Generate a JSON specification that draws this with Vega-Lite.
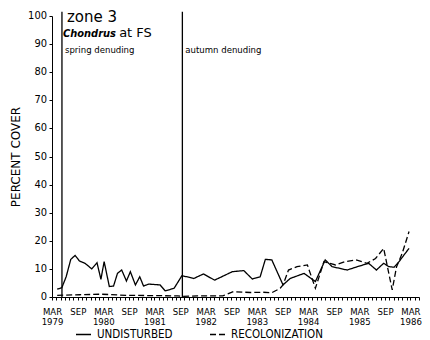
{
  "$schema": "https://vega.github.io/schema/vega-lite/v6.json",
  "autosize": "none",
  "width": 367,
  "height": 281,
  "padding": {"left": 52, "top": 16, "right": 11, "bottom": 43},
  "background": "white",
  "config": {
    "view": {"stroke": null},
    "font": "DejaVu Sans Condensed",
    "axis": {"domainColor": "black", "tickColor": "black", "labelColor": "black", "titleColor": "black", "grid": false}
  },
  "datasets": {
    "cover": [
      {"date": "1979-04-07", "cover": 2.8, "series": "UNDISTURBED"},
      {"date": "1979-05-10", "cover": 3.3, "series": "UNDISTURBED"},
      {"date": "1979-06-10", "cover": 7.2, "series": "UNDISTURBED"},
      {"date": "1979-07-13", "cover": 13.4, "series": "UNDISTURBED"},
      {"date": "1979-08-13", "cover": 14.8, "series": "UNDISTURBED"},
      {"date": "1979-09-13", "cover": 12.8, "series": "UNDISTURBED"},
      {"date": "1979-10-22", "cover": 12.0, "series": "UNDISTURBED"},
      {"date": "1979-12-10", "cover": 10.0, "series": "UNDISTURBED"},
      {"date": "1980-01-16", "cover": 12.2, "series": "UNDISTURBED"},
      {"date": "1980-02-13", "cover": 6.3, "series": "UNDISTURBED"},
      {"date": "1980-03-07", "cover": 12.6, "series": "UNDISTURBED"},
      {"date": "1980-04-13", "cover": 3.7, "series": "UNDISTURBED"},
      {"date": "1980-05-13", "cover": 3.9, "series": "UNDISTURBED"},
      {"date": "1980-06-10", "cover": 8.4, "series": "UNDISTURBED"},
      {"date": "1980-07-10", "cover": 9.6, "series": "UNDISTURBED"},
      {"date": "1980-08-13", "cover": 5.7, "series": "UNDISTURBED"},
      {"date": "1980-09-10", "cover": 9.0, "series": "UNDISTURBED"},
      {"date": "1980-10-16", "cover": 4.3, "series": "UNDISTURBED"},
      {"date": "1980-11-16", "cover": 7.2, "series": "UNDISTURBED"},
      {"date": "1980-12-13", "cover": 3.9, "series": "UNDISTURBED"},
      {"date": "1981-01-19", "cover": 4.6, "series": "UNDISTURBED"},
      {"date": "1981-04-10", "cover": 4.3, "series": "UNDISTURBED"},
      {"date": "1981-05-16", "cover": 2.2, "series": "UNDISTURBED"},
      {"date": "1981-06-22", "cover": 2.7, "series": "UNDISTURBED"},
      {"date": "1981-07-19", "cover": 3.1, "series": "UNDISTURBED"},
      {"date": "1981-09-13", "cover": 7.6, "series": "UNDISTURBED"},
      {"date": "1981-12-07", "cover": 6.6, "series": "UNDISTURBED"},
      {"date": "1982-02-13", "cover": 8.2, "series": "UNDISTURBED"},
      {"date": "1982-05-04", "cover": 6.0, "series": "UNDISTURBED"},
      {"date": "1982-09-07", "cover": 9.0, "series": "UNDISTURBED"},
      {"date": "1982-11-28", "cover": 9.4, "series": "UNDISTURBED"},
      {"date": "1983-01-28", "cover": 6.4, "series": "UNDISTURBED"},
      {"date": "1983-03-25", "cover": 7.2, "series": "UNDISTURBED"},
      {"date": "1983-05-01", "cover": 13.4, "series": "UNDISTURBED"},
      {"date": "1983-06-16", "cover": 13.2, "series": "UNDISTURBED"},
      {"date": "1983-09-04", "cover": 4.3, "series": "UNDISTURBED"},
      {"date": "1983-10-25", "cover": 6.6, "series": "UNDISTURBED"},
      {"date": "1984-02-01", "cover": 8.4, "series": "UNDISTURBED"},
      {"date": "1984-04-22", "cover": 5.5, "series": "UNDISTURBED"},
      {"date": "1984-07-01", "cover": 13.2, "series": "UNDISTURBED"},
      {"date": "1984-08-19", "cover": 10.8, "series": "UNDISTURBED"},
      {"date": "1984-12-04", "cover": 9.6, "series": "UNDISTURBED"},
      {"date": "1985-02-16", "cover": 10.8, "series": "UNDISTURBED"},
      {"date": "1985-05-07", "cover": 12.0, "series": "UNDISTURBED"},
      {"date": "1985-07-01", "cover": 9.6, "series": "UNDISTURBED"},
      {"date": "1985-08-22", "cover": 12.0, "series": "UNDISTURBED"},
      {"date": "1985-09-28", "cover": 10.8, "series": "UNDISTURBED"},
      {"date": "1985-11-04", "cover": 10.6, "series": "UNDISTURBED"},
      {"date": "1985-12-10", "cover": 12.6, "series": "UNDISTURBED"},
      {"date": "1986-01-13", "cover": 14.9, "series": "UNDISTURBED"},
      {"date": "1986-02-19", "cover": 17.3, "series": "UNDISTURBED"},
      {"date": "1979-04-07", "cover": 0.6, "series": "RECOLONIZATION"},
      {"date": "1979-09-15", "cover": 0.8, "series": "RECOLONIZATION"},
      {"date": "1980-02-15", "cover": 1.0, "series": "RECOLONIZATION"},
      {"date": "1980-08-15", "cover": 0.6, "series": "RECOLONIZATION"},
      {"date": "1981-02-15", "cover": 0.5, "series": "RECOLONIZATION"},
      {"date": "1981-08-15", "cover": 0.4, "series": "RECOLONIZATION"},
      {"date": "1981-09-20", "cover": 0.2, "series": "RECOLONIZATION"},
      {"date": "1982-01-01", "cover": 0.4, "series": "RECOLONIZATION"},
      {"date": "1982-07-01", "cover": 0.4, "series": "RECOLONIZATION"},
      {"date": "1982-09-15", "cover": 1.9, "series": "RECOLONIZATION"},
      {"date": "1983-01-15", "cover": 1.6, "series": "RECOLONIZATION"},
      {"date": "1983-04-15", "cover": 1.7, "series": "RECOLONIZATION"},
      {"date": "1983-06-15", "cover": 1.5, "series": "RECOLONIZATION"},
      {"date": "1983-08-15", "cover": 3.1, "series": "RECOLONIZATION"},
      {"date": "1983-09-04", "cover": 4.3, "series": "RECOLONIZATION"},
      {"date": "1983-10-13", "cover": 9.6, "series": "RECOLONIZATION"},
      {"date": "1983-12-13", "cover": 10.8, "series": "RECOLONIZATION"},
      {"date": "1984-02-25", "cover": 11.4, "series": "RECOLONIZATION"},
      {"date": "1984-04-22", "cover": 3.1, "series": "RECOLONIZATION"},
      {"date": "1984-06-22", "cover": 12.6, "series": "RECOLONIZATION"},
      {"date": "1984-09-13", "cover": 11.4, "series": "RECOLONIZATION"},
      {"date": "1984-11-22", "cover": 12.6, "series": "RECOLONIZATION"},
      {"date": "1985-02-04", "cover": 13.2, "series": "RECOLONIZATION"},
      {"date": "1985-04-25", "cover": 12.0, "series": "RECOLONIZATION"},
      {"date": "1985-06-25", "cover": 13.7, "series": "RECOLONIZATION"},
      {"date": "1985-08-22", "cover": 17.3, "series": "RECOLONIZATION"},
      {"date": "1985-10-22", "cover": 2.5, "series": "RECOLONIZATION"},
      {"date": "1985-11-22", "cover": 10.8, "series": "RECOLONIZATION"},
      {"date": "1986-01-01", "cover": 15.5, "series": "RECOLONIZATION"},
      {"date": "1986-02-19", "cover": 23.3, "series": "RECOLONIZATION"}
    ],
    "denuding": [
      {"date": "1979-05-11", "label": "spring denuding"},
      {"date": "1981-09-16", "label": "autumn denuding"}
    ],
    "yticks": [
      {"tick": 0}, {"tick": 10}, {"tick": 20}, {"tick": 30}, {"tick": 40}, {"tick": 50},
      {"tick": 60}, {"tick": 70}, {"tick": 80}, {"tick": 90}, {"tick": 100}
    ]
  },
  "layer": [
    {
      "data": {"name": "cover"},
      "mark": {"type": "line", "color": "black", "strokeWidth": 1.3},
      "encoding": {
        "x": {
          "field": "date", "type": "temporal",
          "scale": {"type": "utc", "domain": ["1979-03-01", "1986-05-01"], "nice": false},
          "axis": {
            "title": null,
            "tickCount": {"interval": "month", "step": 1},
            "tickSize": 3,
            "labelOverlap": false,
            "labelFlush": false,
            "labelBound": false,
            "labelFontSize": 9.5,
            "labelLineHeight": 10,
            "labelPadding": 6,
            "labelExpr": "utcmonth(datum.value) == 2 ? ['MAR', '' + utcyear(datum.value)] : (utcmonth(datum.value) == 8 ? ['SEP', ''] : '')"
          }
        },
        "y": {
          "field": "cover", "type": "quantitative",
          "scale": {"domain": [0, 100], "nice": false},
          "axis": {
            "title": "PERCENT COVER",
            "titleFontSize": 12,
            "titleFontWeight": "normal",
            "titleFont": "DejaVu Sans",
            "titlePadding": 26,
            "labels": false,
            "tickCount": 10,
            "tickSize": 3,
            "domain": true
          }
        },
        "strokeDash": {
          "field": "series", "type": "nominal",
          "scale": {"domain": ["UNDISTURBED", "RECOLONIZATION"], "range": [[1, 0], [6, 3]]},
          "legend": {
            "title": null,
            "orient": "none",
            "legendX": 23,
            "legendY": 310,
            "direction": "horizontal",
            "symbolType": "stroke",
            "symbolSize": 225,
            "symbolStrokeColor": "black",
            "symbolStrokeWidth": 1.3,
            "labelFontSize": 11.5,
            "labelColor": "black",
            "labelOffset": 5,
            "columnPadding": 34,
            "padding": 0
          }
        },
        "order": {"field": "date", "type": "temporal"}
      }
    },
    {
      "data": {"name": "yticks"},
      "mark": {"type": "text", "align": "right", "baseline": "middle", "dx": -5, "fontSize": 11, "color": "black"},
      "encoding": {
        "x": {"datum": "1979-03-01", "type": "temporal"},
        "y": {"field": "tick", "type": "quantitative"},
        "text": {"field": "tick", "type": "quantitative"}
      }
    },
    {
      "data": {"name": "denuding"},
      "mark": {"type": "rule", "color": "black", "strokeWidth": 1.3},
      "encoding": {
        "x": {"field": "date", "type": "temporal"},
        "y": {"datum": 0},
        "y2": {"datum": 101.5}
      }
    },
    {
      "data": {"name": "denuding"},
      "mark": {"type": "text", "align": "left", "baseline": "alphabetic", "dx": 3, "fontSize": 9.5, "color": "black"},
      "encoding": {
        "x": {"field": "date", "type": "temporal"},
        "y": {"datum": 87},
        "text": {"field": "label"}
      }
    },
    {
      "data": {"values": [{"date": "1979-06-16", "cover": 97.9, "label": "zone 3"}]},
      "mark": {"type": "text", "align": "left", "baseline": "alphabetic", "fontSize": 15, "color": "black", "font": "DejaVu Sans"},
      "encoding": {
        "x": {"field": "date", "type": "temporal"},
        "y": {"field": "cover", "type": "quantitative"},
        "text": {"field": "label"}
      }
    },
    {
      "data": {"values": [{"date": "1979-05-18", "cover": 92.5, "label": "Chondrus"}]},
      "mark": {"type": "text", "align": "left", "baseline": "alphabetic", "fontSize": 11, "fontStyle": "italic", "fontWeight": "bold", "color": "black", "font": "DejaVu Sans Condensed"},
      "encoding": {
        "x": {"field": "date", "type": "temporal"},
        "y": {"field": "cover", "type": "quantitative"},
        "text": {"field": "label"}
      }
    },
    {
      "data": {"values": [{"date": "1980-06-22", "cover": 92.5, "label": "at FS"}]},
      "mark": {"type": "text", "align": "left", "baseline": "alphabetic", "fontSize": 13, "color": "black", "font": "DejaVu Sans"},
      "encoding": {
        "x": {"field": "date", "type": "temporal"},
        "y": {"field": "cover", "type": "quantitative"},
        "text": {"field": "label"}
      }
    }
  ]
}
